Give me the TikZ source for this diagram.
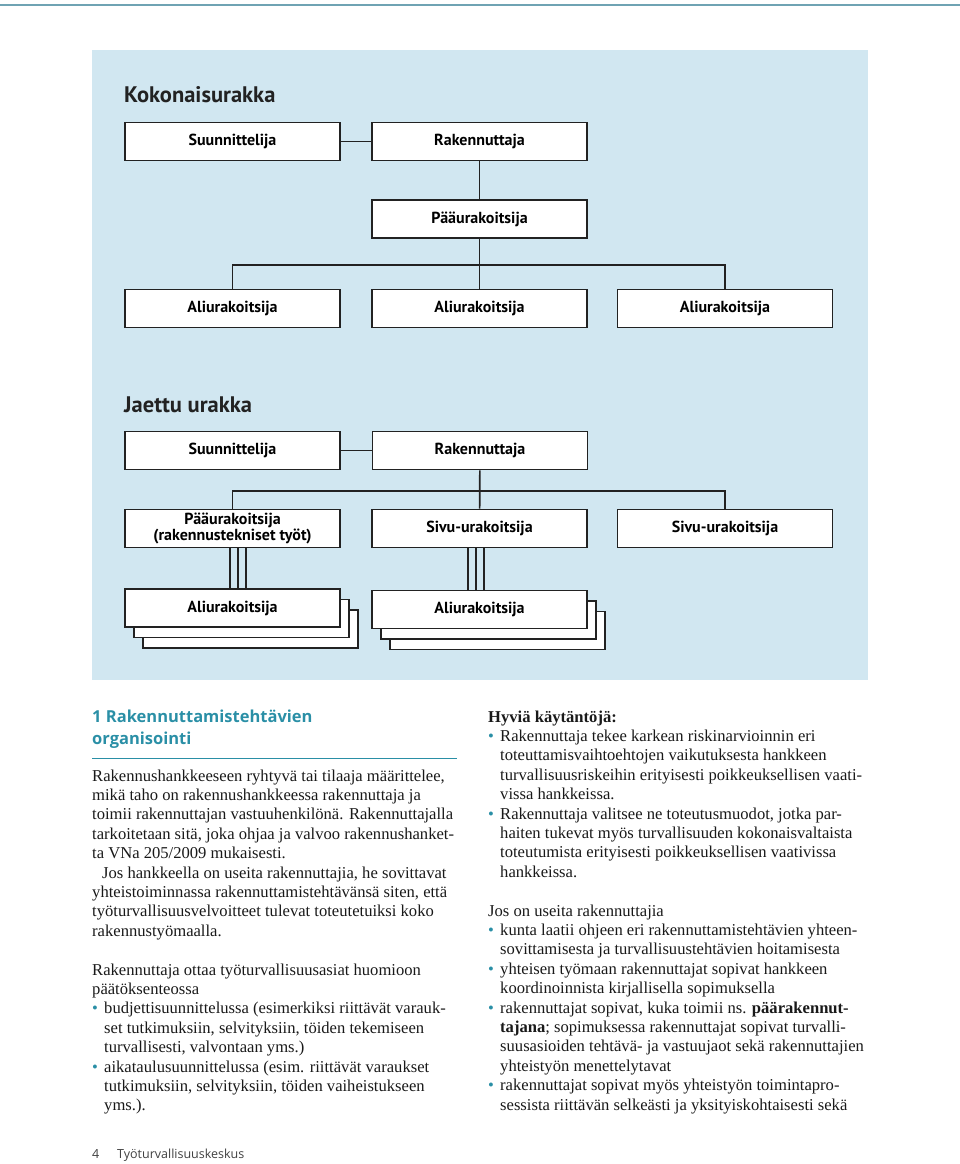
\documentclass[tikz,border=0pt]{standalone}
\usepackage{fontspec}
\setmainfont{Liberation Serif}
\newfontfamily\boxfont{PT Sans}
\newfontfamily\headfont{Open Sans}
\usetikzlibrary{calc,positioning}
\definecolor{panelblue}{HTML}{D1E7F1}
\definecolor{headteal}{HTML}{2A8FA6}
\definecolor{topline}{HTML}{6FA3B3}
\definecolor{boxline}{HTML}{222222}
\newcommand{\bul}{\makebox[12pt][l]{\textcolor{headteal}{\textbullet}}}
\newcommand{\ind}{\hspace*{12pt}}

\begin{document}
\begin{tikzpicture}[x=1pt,y=-1pt,
		orgbox/.style={draw=boxline, line width=1.7pt, fill=white, minimum width=215pt, minimum height=38pt, inner sep=0pt, align=center, font=\boxfont\bfseries\fontsize{16}{15.5}\selectfont},
		link/.style={draw=boxline, line width=1.7pt},
		charttitle/.style={anchor=west, inner sep=0pt, font=\boxfont\bfseries\fontsize{22.5}{25}\selectfont, text=boxline},
		bodytext/.style={anchor=base west, inner sep=0pt, align=left, font=\fontsize{16.6}{19.4}\selectfont, text=black!90}]
		\useasboundingbox (0,0) rectangle (960,1164);
		\draw[topline, line width=1.5pt] (0,5) -- (960,5);%top rule
		\fill[panelblue] (92,50) rectangle (868,680);%panel
		
		% Kokonaisurakka
		\node[charttitle] (kok) at (124,95) {Kokonaisurakka};
		\node[orgbox] (ksuu) at (232.5,141.5) {Suunnittelija};
		\node[orgbox] (krak) at (479.5,141.5) {Rakennuttaja};
		\node[orgbox] (kpaa) at (479.5,219) {Pääurakoitsija};
		\node[orgbox] (kali1) at (232.5,308.5) {Aliurakoitsija};
		\node[orgbox] (kali2) at (479.5,308.5) {Aliurakoitsija};
		\node[orgbox] (kali3) at (725,308.5) {Aliurakoitsija};
		\coordinate (kbar) at (479.5,265);
		\draw[link] (ksuu) -- (krak);
		\draw[link] (krak) -- (kpaa);
		\draw[link] (kpaa) -- (kali2);
		\draw[link] (kali1.north) |- (kbar) -| (kali3.north);%bar
		
		% Jaettu urakka
		\node[charttitle] (jae) at (124,405) {Jaettu urakka};
		\node[orgbox] (jsuu) at (232.5,450.5) {Suunnittelija};
		\node[orgbox] (jrak) at (480,450.5) {Rakennuttaja};
		\node[orgbox] (jpaa) at (232.5,528.5) {Pääurakoitsija\\(rakennustekniset työt)};
		\node[orgbox] (jsiv1) at (479.5,528.5) {Sivu-urakoitsija};
		\node[orgbox] (jsiv2) at (725,528.5) {Sivu-urakoitsija};
		\coordinate (jbar) at (479.5,491);
		\draw[link] (jsuu) -- (jrak);
		\draw[link] (jrak) -- (jsiv1);
		\draw[link] (jpaa.north) |- (jbar) -| (jsiv2.north);%bar
		
		\foreach \s in {2,1}{
			\node[orgbox] (jalia\s) at ($(232.5,608)+(\s*9,\s*10.5)$) {};%stack
			\node[orgbox] (jalib\s) at ($(479.5,609.5)+(\s*9,\s*10.5)$) {};%stack
		}
		\node[orgbox] (jali1) at (232.5,608) {Aliurakoitsija};
		\node[orgbox] (jali2) at (479.5,609.5) {Aliurakoitsija};
		\foreach \dx in {-2.5,5.5,13.5}
			\draw[link, line width=1.4pt] ([xshift=\dx pt]jpaa.south) -- ([xshift=\dx pt]jali1.north);
		\foreach \dx in {-11.5,-3.5,4.5}
			\draw[link, line width=1.4pt] ([xshift=\dx pt]jsiv1.south) -- ([xshift=\dx pt]jali2.north);
		
		% text below (base = last line)
		\node[anchor=base west, inner sep=0pt, align=left, text=headteal, font=\headfont\bfseries\fontsize{16.5}{22}\selectfont] (head) at (92,744) {1 Rakennuttamistehtävien\\organisointi};
		\draw[headteal, line width=0.8pt] (92,758) -- (457,758);%rule
		
		\node[bodytext] (lefttext) at (92,1110.8) {Rakennushankkeeseen ryhtyvä tai tilaaja määrittelee,\\
			mikä taho on rakennushankkeessa rakennuttaja ja\\
			toimii rakennuttajan vastuuhenkilönä. Rakennuttajalla\\
			tarkoitetaan sitä, joka ohjaa ja valvoo rakennushanket-\\
			ta VNa 205/2009 mukaisesti.\\
			\hspace*{10pt}Jos hankkeella on useita rakennuttajia, he sovittavat\\
			yhteistoiminnassa rakennuttamistehtävänsä siten, että\\
			työturvallisuusvelvoitteet tulevat toteutetuiksi koko\\
			rakennustyömaalla.\\
			\mbox{}\\
			Rakennuttaja ottaa työturvallisuusasiat huomioon\\
			päätöksenteossa\\
			\bul budjettisuunnittelussa (esimerkiksi riittävät varauk-\\
			\ind set tutkimuksiin, selvityksiin, töiden tekemiseen\\
			\ind turvallisesti, valvontaan yms.)\\
			\bul aikataulusuunnittelussa (esim. riittävät varaukset\\
			\ind tutkimuksiin, selvityksiin, töiden vaiheistukseen\\
			\ind yms.).};
		
		\node[bodytext] (righttext) at (488,1110) {\textbf{Hyviä käytäntöjä:}\\
			\bul Rakennuttaja tekee karkean riskinarvioinnin eri\\
			\ind toteuttamisvaihtoehtojen vaikutuksesta hankkeen\\
			\ind turvallisuusriskeihin erityisesti poikkeuksellisen vaati-\\
			\ind vissa hankkeissa.\\
			\bul Rakennuttaja valitsee ne toteutusmuodot, jotka par-\\
			\ind haiten tukevat myös turvallisuuden kokonaisvaltaista\\
			\ind toteutumista erityisesti poikkeuksellisen vaativissa\\
			\ind hankkeissa.\\
			\mbox{}\\
			Jos on useita rakennuttajia\\
			\bul kunta laatii ohjeen eri rakennuttamistehtävien yhteen-\\
			\ind sovittamisesta ja turvallisuustehtävien hoitamisesta\\
			\bul yhteisen työmaan rakennuttajat sopivat hankkeen\\
			\ind koordinoinnista kirjallisella sopimuksella\\
			\bul rakennuttajat sopivat, kuka toimii ns. \textbf{päärakennut-}\\
			\ind \textbf{tajana}; sopimuksessa rakennuttajat sopivat turvalli-\\
			\ind suusasioiden tehtävä- ja vastuujaot sekä rakennuttajien\\
			\ind yhteistyön menettelytavat\\
			\bul rakennuttajat sopivat myös yhteistyön toimintapro-\\
			\ind sessista riittävän selkeästi ja yksityiskohtaisesti sekä};
		
		% footer
		\node[anchor=base west, inner sep=0pt, font=\headfont\fontsize{12.5}{14}\selectfont, text=black!75] (pagenum) at (92,1158) {4};
		\node[anchor=base west, inner sep=0pt, font=\headfont\fontsize{12.5}{14}\selectfont, text=black!75] (publisher) at (117,1158) {Työturvallisuuskeskus};
\end{tikzpicture}
\end{document}
